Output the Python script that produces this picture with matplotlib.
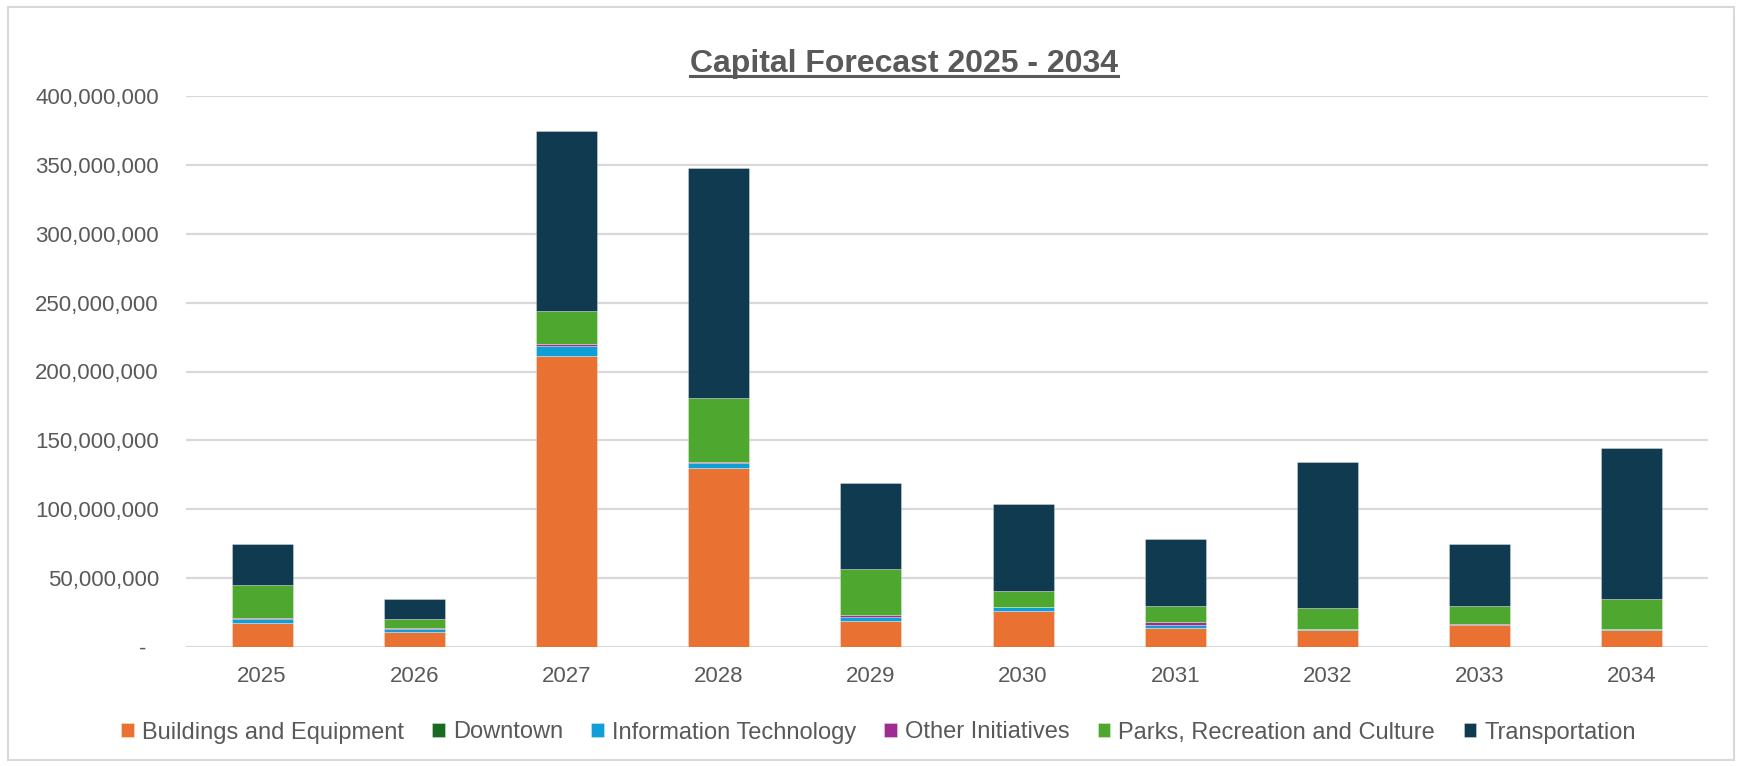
import matplotlib
matplotlib.use("Agg")
import matplotlib.pyplot as plt
from matplotlib.patches import Rectangle
from matplotlib.lines import Line2D
from matplotlib.ticker import FuncFormatter, MultipleLocator
import numpy as np

years = ["2025", "2026", "2027", "2028", "2029", "2030", "2031", "2032", "2033", "2034"]
series_names = ["Buildings and Equipment", "Downtown", "Information Technology",
                "Other Initiatives", "Parks, Recreation and Culture", "Transportation"]
# values in millions
buildings = [17.2, 10.7, 211.4, 129.6, 19.2, 25.9, 13.6, 12.0, 15.8, 12.0]
downtown = [0.0, 0.0, 0.0, 0.0, 0.0, 0.0, 0.0, 0.0, 0.0, 0.0]
info_tech = [2.9, 2.2, 7.3, 3.9, 2.9, 3.4, 2.7, 1.2, 0.4, 1.2]
other = [1.2, 0.9, 1.4, 1.1, 0.9, 0.0, 2.2, 0.0, 0.8, 0.0]
parks = [23.8, 6.3, 23.7, 46.2, 33.7, 11.4, 11.1, 15.2, 12.6, 21.9]
transport = [29.8, 14.8, 130.7, 167.2, 62.7, 63.1, 49.0, 105.8, 45.4, 109.5]

colors = ["#E97132", "#196B24", "#0F9ED5", "#A02B93", "#4EA72E", "#103A4F"]

plt.rcParams['font.family'] = ['Liberation Sans', 'DejaVu Sans']
W, H = 1737, 766
fig = plt.figure(figsize=(W / 100, H / 100), dpi=100)
fig.patch.set_facecolor("white")

# chart border
fig.patches.append(Rectangle((8 / W, 6 / H), (1734 - 8) / W, (759 - 6) / H,
                             transform=fig.transFigure, fill=False,
                             edgecolor="#D9D9D9", linewidth=1.5))

ax = fig.add_axes([186 / W, (H - 647) / H, 1522 / W, (647 - 96) / H])
x = np.arange(len(years))
data = [buildings, downtown, info_tech, other, parks, transport]
bottom = np.zeros(len(years))
for name, vals, c in zip(series_names, data, colors):
    v = np.array(vals) * 1e6
    ax.bar(x, v, bottom=bottom, width=0.4, color=c, label=name,
           edgecolor=(1, 1, 1, 0.35), linewidth=0.6, zorder=3)
    bottom += v

ax.set_xlim(-0.5, len(years) - 0.5)
ax.set_ylim(0, 400e6)
ax.yaxis.set_major_locator(MultipleLocator(50e6))
ax.yaxis.set_major_formatter(FuncFormatter(lambda v, p: "-  " if v == 0 else f"{int(v):,}"))
ax.set_xticks(x)
ax.set_xticklabels(years)
ax.grid(axis="y", color="#D9D9D9", linewidth=1.6, zorder=0)
ax.set_axisbelow(True)
for s in ax.spines.values():
    s.set_visible(False)
ax.tick_params(axis="both", length=0, labelsize=16, colors="#595959")
ax.tick_params(axis="y", pad=19.5)
ax.tick_params(axis="x", pad=14)

# title with underline
t = fig.text(904 / W, 1 - 72 / H, "Capital Forecast 2025 - 2034", ha="center", va="baseline",
             fontsize=23, fontweight="bold", color="#595959")
fig.canvas.draw()
bb = t.get_window_extent(renderer=fig.canvas.get_renderer())
fig.lines.append(Line2D([bb.x0 / W, bb.x1 / W], [(H - 76) / H, (H - 76) / H],
                        transform=fig.transFigure, color="#595959", linewidth=2.2))

leg = fig.legend(loc="center", bbox_to_anchor=(878.5 / W, 1 - 732.5 / H), ncol=6,
                 frameon=False, fontsize=17, handlelength=0.53, handleheight=0.55,
                 handletextpad=0.34, columnspacing=1.2)
for txt in leg.get_texts():
    txt.set_color("#595959")

fig.savefig("out.png", dpi=100, facecolor="white")
